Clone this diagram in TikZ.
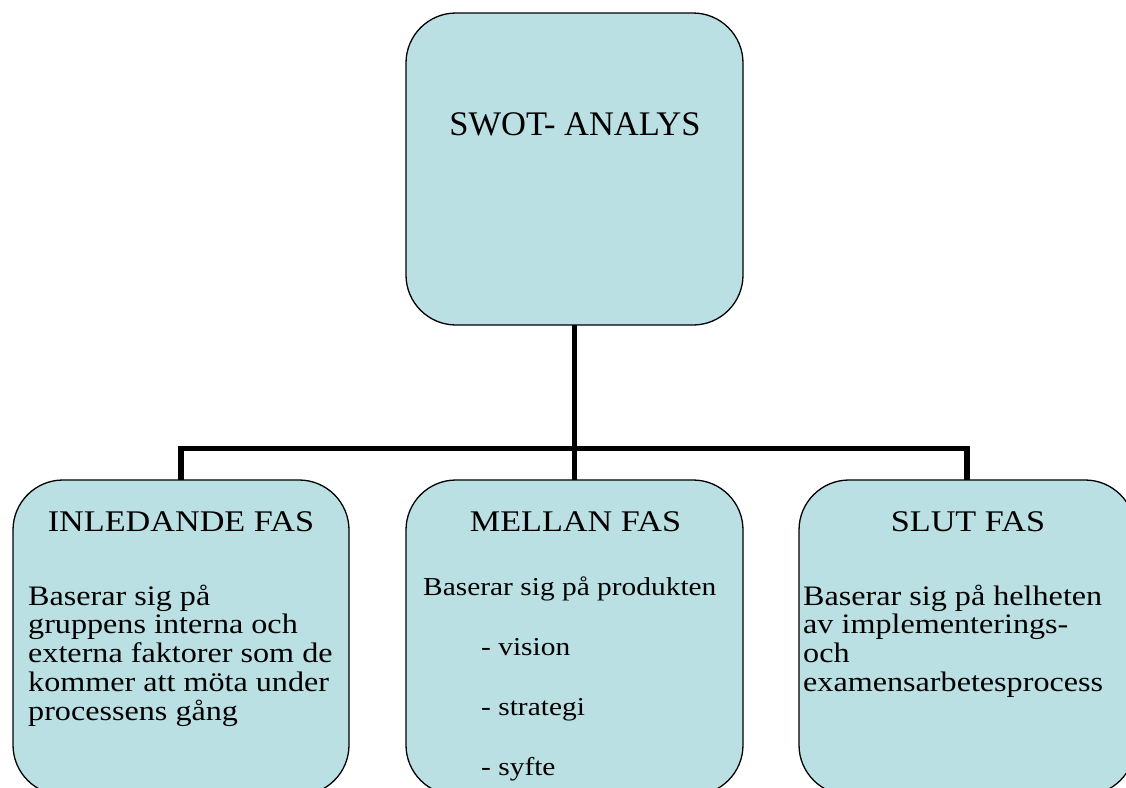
\documentclass[tikz,border=0pt]{standalone}
\usepackage{fontspec}
\setmainfont{Liberation Serif}[FakeStretch=1.14]
\newfontfamily\plainserif{Liberation Serif}
\definecolor{boxfill}{RGB}{187,224,227}
\tikzset{
  phase/.style={draw=black, line width=1.3pt, fill=boxfill, rounded corners=50pt,
                inner sep=0pt, outer sep=0pt, minimum width=#1, minimum height=315pt},
  topbox/.style={draw=black, line width=1.3pt, fill=boxfill, rounded corners=50pt,
                inner sep=0pt, outer sep=0pt, minimum width=337pt, minimum height=312pt},
  conn/.style={line width=5.6pt, line join=miter, line cap=butt},
  bigtitle/.style={font=\plainserif\fontsize{34.5}{38}\selectfont, inner sep=0pt, anchor=base},
  title/.style={font=\fontsize{30}{33}\selectfont, inner sep=0pt, anchor=base},
  body/.style={font=\fontsize{28.2}{28.75}\selectfont, inner sep=0pt, anchor=base west, align=left},
  smallbody/.style={font=\fontsize{25.8}{28}\selectfont, inner sep=0pt, anchor=base west},
}
\begin{document}
\begin{tikzpicture}[x=1pt,y=-1pt]
\useasboundingbox (0,0) rectangle (1126,787);

% boxes
\node[topbox] (swot) at (574.5,169) {};
\node[phase=336pt] (inl)  at (181,637.5) {};
\node[phase=337pt] (mel)  at (574.5,637.5) {};
\node[phase=336pt] (slut) at (967,637.5) {};

% connectors
\coordinate (bus) at (574.5,448.5);
\draw[conn] (swot.south) -- (mel.north);
\draw[conn] (inl.north) -- (inl.north |- bus) -- (slut.north |- bus) -- (slut.north);

% titles
\node[bigtitle] (swott) at (575,135) {SWOT- ANALYS};
\node[title] (inlt)  at (181,531) {INLEDANDE FAS};
\node[title] (melt)  at (575.5,531) {MELLAN FAS};
\node[title] (slutt) at (968,531) {SLUT FAS};

% descriptions (base anchor sits on the last line)
\node[body] (inlb) at (28,720) {Baserar sig på\\gruppens interna och\\externa faktorer som de\\kommer att möta under\\processens gång};
\node[smallbody] (melb) at (423,595) {Baserar sig på produkten};
\node[smallbody] (mel1) at (481,655) {- vision};
\node[smallbody] (mel2) at (481,715) {- strategi};
\node[smallbody] (mel3) at (481,775) {- syfte};
\node[body] (slutb) at (803,691.25) {Baserar sig på helheten\\av implementerings-\\och\\examensarbetesprocess};
\end{tikzpicture}
\end{document}
